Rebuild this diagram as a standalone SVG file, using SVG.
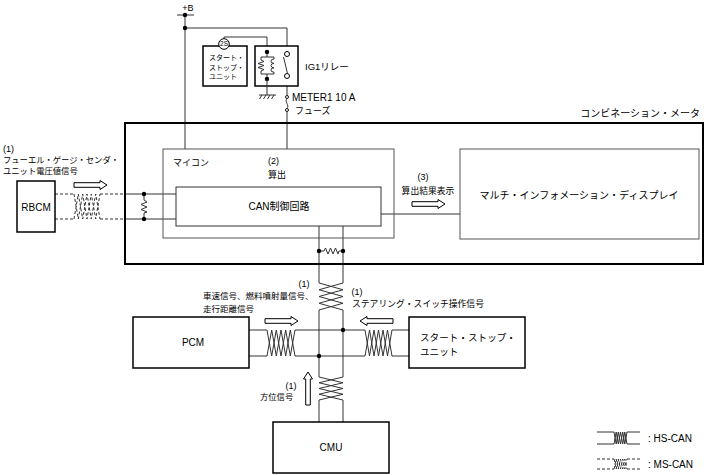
<svg xmlns="http://www.w3.org/2000/svg" xmlns:xlink="http://www.w3.org/1999/xlink" width="706" height="475" viewBox="0 0 706 475">
<style>
.box{fill:#fff;stroke:#000;stroke-width:1.5}
.inner{fill:none;stroke:#555;stroke-width:1}
.ln{fill:none;stroke:#333;stroke-width:1}
.dash{fill:none;stroke:#333;stroke-width:1;stroke-dasharray:3,2}
.dot{fill:#000}
.t{font-family:"Liberation Sans","Noto Sans CJK JP",sans-serif;fill:#000}
.j{font-family:"Noto Sans CJK JP",sans-serif;fill:#000}
</style>
<defs>
<path id="arr" d="M0,-2.3 H26 V-4.5 L33,0 L26,4.5 V2.3 H0 Z" fill="#fff" stroke="#000" stroke-width="1"/>
</defs>
<rect width="706" height="475" fill="#fff"/>

<g id="connectors">
  <!-- +B supply -->
  <line class="ln" x1="177" y1="15" x2="194" y2="15"/>
  <line class="ln" x1="185" y1="15" x2="185" y2="149"/>
  <line class="ln" x1="185" y1="28" x2="287" y2="28"/>
  <line class="ln" x1="287" y1="28" x2="287" y2="51.5"/>
  <line class="ln" x1="287" y1="78.5" x2="287" y2="95.5"/>
  <line class="ln" x1="287" y1="111.5" x2="287" y2="149"/>
  <path class="ln" d="M224,38.7 V37 H267 V52"/>
  <circle class="dot" cx="185" cy="15" r="2.2"/>
  <circle class="dot" cx="185" cy="28" r="2.2"/>
  <!-- MS-CAN RBCM -->
  <path class="dash" d="M55,194 H74 M100,194 H125 M55,219 H74 M100,219 H125"/>
  <path class="dash" d="M74,194 L78.3,219 L82.7,194 L87,219 L91.3,194 L95.7,219 L100,194"/>
  <path class="dash" d="M74,219 L78.3,194 L82.7,219 L87,194 L91.3,219 L95.7,194 L100,219"/>
  <path class="ln" d="M125,194 H176 M125,219 H176"/>
  <path class="ln" d="M144,194 V200 L147,202 L141,204.5 L147,207 L141,209.5 L147,212 L144,213 V219"/>
  <circle class="dot" cx="144" cy="194" r="2.2"/>
  <circle class="dot" cx="144" cy="219" r="2.2"/>
  <!-- CAN to display -->
  <line class="ln" x1="381" y1="214" x2="460" y2="214"/>
  <!-- HS-CAN vertical bus -->
  <path class="ln" d="M319,226 V283 M343,226 V283 M319,310 V377 M343,310 V377 M319,400 V422 M343,400 V422"/>
  <path class="ln" d="M319,251 H324 L325.5,248 L328,254 L330.5,248 L333,254 L335.5,248 L338,254 L339,251 H343"/>
  <circle class="dot" cx="319" cy="251" r="2.2"/>
  <circle class="dot" cx="343" cy="251" r="2.2"/>
  <path class="ln" d="M319,283 L343,289.75 L319,296.5 L343,303.25 L319,310"/>
  <path class="ln" d="M343,283 L319,289.75 L343,296.5 L319,303.25 L343,310"/>
  <path class="ln" d="M319,377 L343,382.75 L319,388.5 L343,394.25 L319,400"/>
  <path class="ln" d="M343,377 L319,382.75 L343,388.5 L319,394.25 L343,400"/>
  <!-- HS-CAN horizontal bus -->
  <path class="ln" d="M249,330 H267 M295,330 H365 M392,330 H409 M249,356 H267 M295,356 H365 M392,356 H409"/>
  <path class="ln" d="M267,330 L271.7,356 L276.3,330 L281,356 L285.7,330 L290.3,356 L295,330"/>
  <path class="ln" d="M267,356 L271.7,330 L276.3,356 L281,330 L285.7,356 L290.3,330 L295,356"/>
  <path class="ln" d="M365,330 L369.5,356 L374,330 L378.5,356 L383,330 L387.5,356 L392,330"/>
  <path class="ln" d="M365,356 L369.5,330 L374,356 L378.5,330 L383,356 L387.5,330 L392,356"/>
  <circle class="dot" cx="343" cy="330" r="2.2"/>
  <circle class="dot" cx="319" cy="356" r="2.2"/>
  <!-- signal arrows -->
  <use xlink:href="#arr" href="#arr" transform="translate(74,185)"/>
  <use xlink:href="#arr" href="#arr" transform="translate(412,204)"/>
  <use xlink:href="#arr" href="#arr" transform="translate(265,321)"/>
  <use xlink:href="#arr" href="#arr" transform="translate(393,321) rotate(180)"/>
  <use xlink:href="#arr" href="#arr" transform="translate(308,405) rotate(-90)"/>
</g>

<g id="supply-label">
  <text class="t" x="188" y="11" font-size="9" text-anchor="middle">+B</text>
</g>

<g id="ssu-small">
  <rect class="box" x="203" y="46" width="44" height="40"/>
  <circle cx="224" cy="44" r="5.3" fill="#fff" stroke="#000" stroke-width="1"/>
  <text class="t" x="224" y="46.3" font-size="6.5" text-anchor="middle">2S</text>
  <text class="j" x="209" y="60" font-size="7">スタート・</text>
  <text class="j" x="209" y="69.5" font-size="7">ストップ・</text>
  <text class="j" x="209" y="79" font-size="7">ユニット</text>
</g>

<g id="relay">
  <rect class="box" x="255" y="46" width="43" height="40"/>
  <path class="ln" d="M267,52 V57 M261,57 H274 M261,74 H274 M267,74 V79"/>
  <path class="ln" d="M261,57 V60 L264,61.5 L258,63.5 L264,65.5 L258,67.5 L264,69.5 L261,71 V74"/>
  <path class="ln" d="M274,57 V59 a3,2.2 0 1 0 0,4.4 a3,2.2 0 1 0 0,4.4 a3,2.2 0 1 0 0,4.4 V74"/>
  <circle class="dot" cx="267" cy="52" r="2.2"/>
  <circle class="dot" cx="267" cy="79" r="2.2"/>
  <circle cx="287" cy="54" r="2.5" fill="#fff" stroke="#000" stroke-width="1"/>
  <circle cx="287" cy="76" r="2.5" fill="#fff" stroke="#000" stroke-width="1"/>
  <line class="ln" x1="283.5" y1="57" x2="287.5" y2="73.5"/>
  <path class="ln" d="M267,79 V95 M259,95 H276 M262,95 L259.5,99 M266,95 L263.5,99 M270,95 L267.5,99 M274,95 L271.5,99" stroke-width="1.2"/>
  <text class="t" x="305" y="70" font-size="9.5">IG1リレー</text>
</g>

<g id="fuse">
  <circle cx="287" cy="97" r="1.5" fill="#fff" stroke="#000" stroke-width="0.9"/>
  <path class="ln" d="M287,98.5 C284,101.5 290,105.5 287,108.5"/>
  <circle cx="287" cy="110" r="1.5" fill="#fff" stroke="#000" stroke-width="0.9"/>
  <text class="t" x="292" y="101" font-size="10">METER1 10 A</text>
  <text class="j" x="295" y="114" font-size="9">フューズ</text>
</g>

<g id="meter">
  <rect x="125" y="123" width="578" height="141" fill="none" stroke="#000" stroke-width="2"/>
  <text class="j" x="700" y="117" font-size="10" text-anchor="end">コンビネーション・メータ</text>
</g>

<g id="micom">
  <rect class="inner" x="163" y="149" width="231" height="89"/>
  <text class="j" x="173" y="165.5" font-size="9">マイコン</text>
  <text class="t" x="268" y="164" font-size="9">(2)</text>
  <text class="j" x="268" y="177.5" font-size="9">算出</text>
</g>

<g id="can">
  <rect x="176" y="187" width="205" height="39" fill="#fff" stroke="#333" stroke-width="1"/>
  <text class="t" x="279" y="209.5" font-size="10" text-anchor="middle">CAN制御回路</text>
</g>

<g id="display">
  <rect class="inner" x="460" y="149" width="239" height="90"/>
  <text class="j" x="579" y="198.5" font-size="10" text-anchor="middle">マルチ・インフォメーション・ディスプレイ</text>
  <text class="t" x="423" y="180" font-size="9" text-anchor="middle">(3)</text>
  <text class="j" x="428" y="194" font-size="8.8" text-anchor="middle">算出結果表示</text>
</g>

<g id="rbcm">
  <rect class="box" x="17" y="181" width="38" height="51"/>
  <text class="t" x="36" y="210.5" font-size="10" text-anchor="middle">RBCM</text>
  <text class="t" x="3" y="152" font-size="9">(1)</text>
  <text class="j" x="3" y="163" font-size="8.3">フューエル・ゲージ・センダ・</text>
  <text class="j" x="3" y="173.5" font-size="8.3">ユニット電圧値信号</text>
</g>

<g id="pcm">
  <rect class="box" x="133" y="317" width="116" height="51"/>
  <text class="t" x="193" y="346" font-size="10" text-anchor="middle">PCM</text>
  <text class="t" x="304" y="286.5" font-size="9" text-anchor="middle">(1)</text>
  <text class="j" x="203" y="299" font-size="8.5">車速信号、燃料噴射量信号、</text>
  <text class="j" x="203" y="312" font-size="8.5">走行距離信号</text>
</g>

<g id="ssu">
  <rect class="box" x="409" y="317" width="116" height="51"/>
  <text class="j" x="420" y="341" font-size="9.6">スタート・ストップ・</text>
  <text class="j" x="420" y="355" font-size="9.6">ユニット</text>
  <text class="t" x="357" y="295" font-size="9" text-anchor="middle">(1)</text>
  <text class="j" x="352" y="306.5" font-size="8.8">ステアリング・スイッチ操作信号</text>
</g>

<g id="cmu">
  <rect class="box" x="273" y="422" width="116" height="51"/>
  <text class="t" x="331" y="450.5" font-size="10" text-anchor="middle">CMU</text>
  <text class="t" x="291" y="388.5" font-size="9" text-anchor="middle">(1)</text>
  <text class="j" x="260" y="400" font-size="8.3">方位信号</text>
</g>

<g id="legend">
  <path class="ln" d="M597,432 H614 M627,432 H640 M597,444 H614 M627,444 H640"/>
  <path class="ln" d="M614,432 L616.2,444 L618.3,432 L620.5,444 L622.7,432 L624.8,444 L627,432"/>
  <path class="ln" d="M614,444 L616.2,432 L618.3,444 L620.5,432 L622.7,444 L624.8,432 L627,444"/>
  <text class="t" x="648" y="442" font-size="10">: HS-CAN</text>
  <path class="dash" d="M597,459 H614 M627,459 H640 M597,469 H614 M627,469 H640" stroke-dasharray="2.5,1.5"/>
  <path class="dash" d="M614,459 L616.2,469 L618.3,459 L620.5,469 L622.7,459 L624.8,469 L627,459" stroke-dasharray="2,1"/>
  <path class="dash" d="M614,469 L616.2,459 L618.3,469 L620.5,459 L622.7,469 L624.8,459 L627,469" stroke-dasharray="2,1"/>
  <text class="t" x="648" y="468" font-size="10">: MS-CAN</text>
</g>
</svg>
